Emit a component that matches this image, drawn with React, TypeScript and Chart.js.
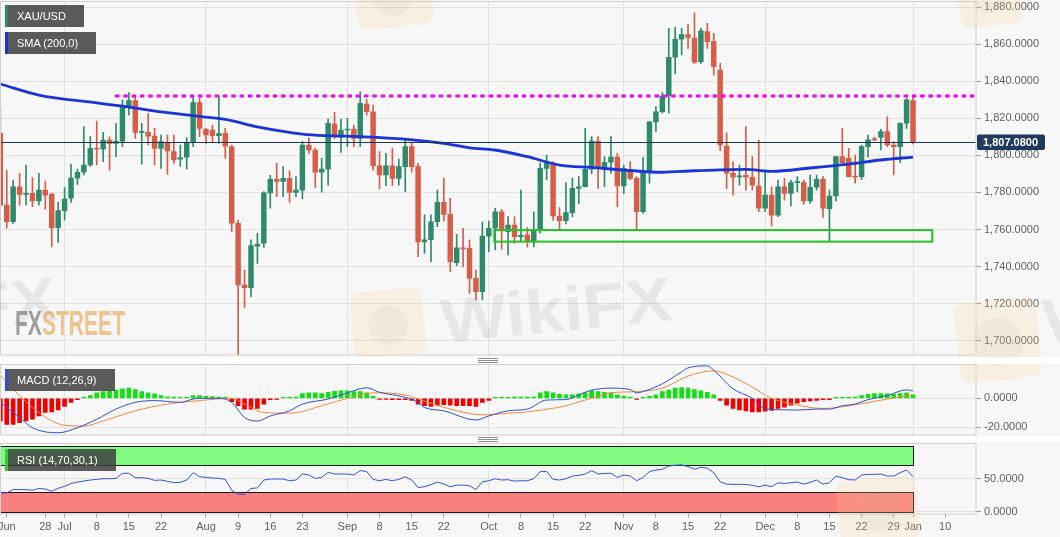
import React, { useEffect, useRef } from "react";
import { Chart, registerables } from "chart.js";

Chart.register(...registerables);

const FONT = '"Liberation Sans", Arial, Helvetica, sans-serif';
const GRID = "#e2e2e2";
const TXT = "#606060";
const BG = "#f7f7f7";
const BORDER = "#d0d0d0";
const UP = "#2f8a6c";
const DOWN = "#d65d48";

// ---------- categories: trading sessions (weekdays), first = 17 Jun 2021 ----------
const firstSession = "2021-06-17";
const sessionCount = 160;
function buildSessions(start: string, count: number): string[] {
  const out: string[] = [];
  const d = new Date(start + "T00:00:00Z");
  while (out.length < count) {
    const w = d.getUTCDay();
    if (w !== 0 && w !== 6) out.push(d.toISOString().slice(0, 10));
    d.setUTCDate(d.getUTCDate() + 1);
  }
  return out;
}
const sessions = buildSessions(firstSession, sessionCount);
const at = (d: string) => sessions.indexOf(d);

// ---------- XAU/USD daily OHLC, 17 Jun 2021 .. 3 Jan 2022 ----------
const open = [
  1811.9, 1773.2, 1764.2, 1783.1, 1778.9, 1779.5, 1775.4, 1781.3, 1779.0, 1761.0,
  1770.2, 1776.9, 1787.7, 1790.9, 1794.8, 1803.8, 1803.3, 1808.3, 1806.5, 1807.6,
  1826.0, 1829.5, 1812.4, 1812.4, 1810.4, 1803.8, 1807.1, 1802.0, 1797.9, 1799.0,
  1806.9, 1828.4, 1814.1, 1813.7, 1810.6, 1811.9, 1804.6, 1763.4, 1730.1, 1728.7,
  1751.1, 1752.6, 1779.8, 1787.1, 1786.0, 1787.6, 1780.0, 1781.3, 1805.6, 1802.9,
  1790.9, 1792.6, 1816.9, 1810.0, 1813.7, 1814.2, 1809.2, 1827.7, 1823.5, 1794.4,
  1789.4, 1794.4, 1787.6, 1793.9, 1804.7, 1793.9, 1753.4, 1754.5, 1764.2, 1774.7,
  1768.2, 1742.2, 1750.2, 1749.9, 1733.7, 1726.5, 1756.5, 1760.7, 1769.6, 1758.9,
  1762.4, 1756.1, 1757.2, 1754.0, 1759.8, 1793.0, 1795.3, 1767.3, 1764.8, 1769.1,
  1782.2, 1783.1, 1792.5, 1807.7, 1793.4, 1796.3, 1799.1, 1783.5, 1792.5, 1787.6,
  1769.6, 1791.7, 1818.1, 1823.5, 1832.0, 1852.9, 1862.6, 1865.1, 1863.3, 1850.5,
  1866.7, 1861.3, 1846.0, 1805.0, 1790.4, 1788.4, 1789.2, 1788.2, 1783.5, 1771.5,
  1778.6, 1767.8, 1783.1, 1779.5, 1785.3, 1785.3, 1775.5, 1782.8, 1787.1, 1771.2,
  1778.1, 1799.3, 1798.4, 1788.9, 1788.5, 1804.7, 1808.7, 1809.7, 1812.8, 1805.6,
  1804.7, 1817.3, 1829.5,
];
const high = [
  1825.5, 1792.0, 1786.7, 1790.3, 1794.8, 1788.0, 1790.3, 1786.2, 1779.5, 1774.7,
  1782.6, 1795.2, 1792.6, 1815.5, 1810.1, 1818.5, 1812.4, 1810.0, 1817.3, 1830.0,
  1833.8, 1832.0, 1817.3, 1822.6, 1814.6, 1811.0, 1811.0, 1811.0, 1805.6, 1809.6,
  1832.5, 1830.8, 1814.6, 1816.4, 1832.0, 1814.6, 1805.6, 1765.1, 1738.2, 1754.4,
  1758.0, 1780.5, 1789.2, 1795.7, 1793.9, 1791.6, 1788.5, 1807.4, 1809.5, 1803.8,
  1798.4, 1819.6, 1823.2, 1819.6, 1820.0, 1816.4, 1834.3, 1830.2, 1827.1, 1802.0,
  1801.1, 1803.8, 1798.0, 1809.2, 1806.5, 1795.7, 1767.9, 1767.9, 1781.3, 1787.6,
  1776.8, 1757.4, 1760.7, 1754.4, 1738.2, 1764.0, 1764.6, 1771.5, 1770.9, 1767.0,
  1766.9, 1781.3, 1761.2, 1769.6, 1796.0, 1800.1, 1796.6, 1771.9, 1785.3, 1787.6,
  1788.5, 1814.6, 1810.1, 1810.1, 1799.3, 1810.1, 1801.1, 1794.8, 1796.6, 1788.5,
  1798.9, 1818.2, 1826.3, 1833.8, 1868.5, 1869.0, 1868.5, 1870.8, 1876.9, 1868.5,
  1871.2, 1865.8, 1849.6, 1812.2, 1796.6, 1794.8, 1815.5, 1799.3, 1808.3, 1792.2,
  1783.1, 1786.7, 1787.6, 1786.7, 1788.5, 1786.7, 1789.4, 1789.4, 1788.5, 1781.3,
  1799.6, 1814.6, 1803.8, 1800.2, 1805.6, 1811.0, 1809.7, 1814.1, 1820.8, 1807.4,
  1817.6, 1830.8, 1831.6,
];
const low = [
  1771.6, 1760.7, 1763.3, 1773.2, 1773.2, 1772.3, 1773.2, 1771.0, 1750.7, 1753.1,
  1765.1, 1774.7, 1784.4, 1789.4, 1794.0, 1794.8, 1796.6, 1792.0, 1799.3, 1804.7,
  1821.7, 1809.2, 1795.2, 1805.6, 1794.8, 1793.0, 1789.8, 1795.7, 1794.0, 1792.6,
  1804.7, 1810.1, 1806.5, 1807.4, 1806.5, 1798.4, 1758.8, 1684.0, 1718.0, 1723.8,
  1741.8, 1750.4, 1771.5, 1777.7, 1777.7, 1774.7, 1777.7, 1776.5, 1801.1, 1782.6,
  1780.1, 1784.0, 1809.2, 1801.6, 1804.7, 1804.7, 1804.7, 1821.7, 1792.0, 1782.0,
  1783.6, 1783.6, 1784.0, 1780.4, 1790.9, 1745.4, 1747.2, 1742.7, 1761.5, 1764.6,
  1737.3, 1740.5, 1740.0, 1725.6, 1722.0, 1722.0, 1748.0, 1749.0, 1749.4, 1746.3,
  1752.5, 1753.5, 1750.5, 1750.7, 1758.0, 1786.7, 1765.1, 1760.1, 1763.0, 1766.9,
  1774.0, 1783.0, 1790.0, 1782.2, 1783.1, 1790.3, 1772.3, 1779.5, 1786.7, 1759.8,
  1768.7, 1785.0, 1812.8, 1822.7, 1822.7, 1843.9, 1854.1, 1857.7, 1849.6, 1849.6,
  1857.7, 1843.3, 1802.5, 1782.2, 1778.6, 1784.0, 1781.3, 1781.3, 1769.6, 1769.6,
  1762.0, 1766.9, 1775.9, 1772.7, 1780.4, 1773.7, 1774.1, 1781.3, 1766.6, 1753.7,
  1775.5, 1795.7, 1788.2, 1785.0, 1787.1, 1799.0, 1807.8, 1802.9, 1804.7, 1789.4,
  1796.0, 1814.6, 1806.1,
];
const close = [
  1773.2, 1764.2, 1783.1, 1779.0, 1779.6, 1775.4, 1781.3, 1778.6, 1761.0, 1770.2,
  1776.5, 1787.7, 1790.9, 1794.8, 1803.8, 1803.3, 1808.3, 1806.5, 1807.6, 1825.9,
  1829.5, 1812.4, 1812.8, 1810.4, 1803.8, 1807.4, 1802.4, 1797.5, 1798.8, 1806.9,
  1828.4, 1814.6, 1811.0, 1810.6, 1811.8, 1805.0, 1763.4, 1730.1, 1728.7, 1751.3,
  1752.2, 1779.8, 1787.1, 1786.0, 1787.6, 1780.0, 1781.3, 1805.6, 1802.9, 1790.9,
  1792.6, 1817.3, 1810.0, 1813.7, 1814.2, 1809.2, 1828.1, 1823.5, 1794.4, 1789.4,
  1794.4, 1787.6, 1793.9, 1804.7, 1793.9, 1753.4, 1754.5, 1764.2, 1774.7, 1768.2,
  1742.7, 1750.2, 1749.6, 1733.7, 1726.5, 1756.5, 1760.7, 1769.6, 1759.8, 1762.4,
  1756.1, 1756.9, 1754.0, 1759.8, 1793.0, 1796.0, 1767.3, 1764.8, 1769.1, 1782.2,
  1783.1, 1792.5, 1807.7, 1793.9, 1796.3, 1799.1, 1783.5, 1793.0, 1787.6, 1769.6,
  1791.7, 1818.1, 1823.5, 1832.0, 1852.9, 1862.6, 1865.1, 1863.6, 1850.3, 1867.2,
  1861.3, 1847.8, 1805.6, 1790.4, 1788.2, 1789.0, 1788.2, 1784.0, 1771.5, 1778.6,
  1767.8, 1783.1, 1779.5, 1785.3, 1785.8, 1775.5, 1782.8, 1787.1, 1771.5, 1778.1,
  1799.3, 1796.0, 1788.5, 1788.2, 1804.7, 1808.4, 1808.4, 1812.8, 1805.6, 1804.7,
  1817.3, 1829.9, 1807.08,
];

// ---------- SMA (200) ----------
const sma200: [string, number][] = [
  ["2021-06-17", 1838.5], ["2021-06-25", 1832.5], ["2021-07-08", 1828.3], ["2021-07-14", 1826.5],
  ["2021-07-23", 1823.0], ["2021-07-30", 1821.0], ["2021-08-05", 1819.4], ["2021-08-12", 1815.4],
  ["2021-08-23", 1811.5], ["2021-08-27", 1810.6], ["2021-09-03", 1810.1], ["2021-09-14", 1808.8],
  ["2021-09-22", 1806.5], ["2021-09-28", 1804.1], ["2021-10-04", 1802.9], ["2021-10-11", 1799.3],
  ["2021-10-18", 1794.8], ["2021-10-25", 1793.5], ["2021-11-01", 1792.1], ["2021-11-09", 1790.9],
  ["2021-11-16", 1791.7], ["2021-11-26", 1792.4], ["2021-12-02", 1791.4], ["2021-12-10", 1793.2],
  ["2021-12-20", 1795.3], ["2021-12-27", 1797.5], ["2022-01-03", 1799.1],
];

// ---------- MACD (12,26,9) ----------
const macdLine: [string, number][] = [
  ["2021-06-17", -2.8], ["2021-06-22", -13.4], ["2021-06-24", -20.5], ["2021-06-30", -24.0],
  ["2021-07-05", -20.5], ["2021-07-08", -14.6], ["2021-07-13", -7.5], ["2021-07-16", -2.8],
  ["2021-07-21", -1.6], ["2021-07-27", -2.8], ["2021-07-29", -0.5], ["2021-07-30", 0.0],
  ["2021-08-04", 0.0], ["2021-08-06", -2.8], ["2021-08-10", -13.4], ["2021-08-12", -15.8],
  ["2021-08-16", -12.3], ["2021-08-19", -8.7], ["2021-08-23", -4.0], ["2021-08-27", -0.5],
  ["2021-09-01", 3.8], ["2021-09-06", 7.3], ["2021-09-08", 4.2], ["2021-09-14", 0.7],
  ["2021-09-16", -2.8], ["2021-09-17", -6.4], ["2021-09-22", -8.7], ["2021-09-29", -15.1],
  ["2021-10-01", -12.3], ["2021-10-06", -8.7], ["2021-10-11", -7.5], ["2021-10-14", -1.2],
  ["2021-10-19", -0.9], ["2021-10-21", 2.4], ["2021-10-25", 5.7], ["2021-10-28", 7.1],
  ["2021-11-02", 6.1], ["2021-11-03", 3.8], ["2021-11-04", 4.7], ["2021-11-09", 10.1],
  ["2021-11-12", 18.4], ["2021-11-15", 21.2], ["2021-11-18", 22.6], ["2021-11-19", 19.6],
  ["2021-11-24", 6.6], ["2021-11-29", 0.0], ["2021-12-01", -7.1], ["2021-12-06", -8.0],
  ["2021-12-08", -8.2], ["2021-12-13", -7.5], ["2021-12-15", -7.5], ["2021-12-17", -5.2],
  ["2021-12-21", -4.0], ["2021-12-23", -0.9], ["2021-12-28", 1.9], ["2021-12-31", 5.9],
  ["2022-01-03", 5.2],
];
const signalLine: [string, number][] = [
  ["2021-06-17", 16.0], ["2021-06-22", 1.9], ["2021-06-25", -9.9], ["2021-07-01", -18.8],
  ["2021-07-06", -19.3], ["2021-07-09", -15.8], ["2021-07-16", -8.7], ["2021-07-23", -4.0],
  ["2021-07-30", -1.6], ["2021-08-06", 0.0], ["2021-08-10", -4.0], ["2021-08-13", -9.9],
  ["2021-08-19", -10.4], ["2021-08-26", -5.2], ["2021-09-01", 0.0], ["2021-09-07", 3.8],
  ["2021-09-14", 2.4], ["2021-09-16", -0.5], ["2021-09-23", -7.5], ["2021-09-30", -11.5],
  ["2021-10-06", -10.4], ["2021-10-11", -9.4], ["2021-10-19", -5.2], ["2021-10-22", -1.2],
  ["2021-10-28", 3.8], ["2021-11-03", 4.7], ["2021-11-09", 7.1], ["2021-11-15", 15.5],
  ["2021-11-19", 19.1], ["2021-11-24", 14.8], ["2021-11-29", 7.8], ["2021-12-02", 0.0],
  ["2021-12-08", -4.7], ["2021-12-14", -7.1], ["2021-12-20", -5.2], ["2021-12-28", -0.5],
  ["2022-01-03", 2.4],
];
const macdHist = [
  -15.8, -18.1, -18.1, -17, -15.8, -14.6, -12.3, -9.9, -9.4, -8,
  -5.7, -2.8, -0.9, 0.3, 1.9, 3.8, 4.7, 5.2, 5.7, 6.6,
  7.1, 6.1, 4.7, 3.8, 3.1, 1.9, 0.9, 0.7, 0.5, 0.5,
  1.9, 1.9, 1.4, 1.2, 0.9, 0.5, -2.4, -5.2, -7.5, -7.5,
  -7.1, -4, -0.9, -0.3, 0.3, 0.5, 0.9, 3.3, 3.8, 3.8,
  3.3, 4.2, 4.9, 5.2, 5.2, 4.7, 4.7, 3.8, 1.4, -0.2,
  -0.7, -0.9, -0.9, -0.9, -1.4, -4, -5.2, -5.7, -4.7, -4.5,
  -4.7, -5.2, -5.2, -5.2, -5.7, -2.8, -1.4, 0.2, 0.7, 0.7,
  0.9, 0.9, 0.9, 0.9, 3.8, 4.7, 3.8, 2.8, 2.4, 2.4,
  3.1, 3.8, 5.2, 4.7, 4.2, 3.8, 2.4, 1.4, 0.9, -0.5,
  0.5, 1.4, 2.4, 4.7, 5.7, 7.1, 7.5, 7.1, 6.1, 5.2,
  4.2, 2.4, -1.4, -4.7, -7.1, -8, -8.7, -9.4, -9.4, -9,
  -8.5, -7.1, -6.1, -4.7, -3.3, -2.4, -1.9, -1.4, -0.9, -0.9,
  0.2, 0.5, 0.7, 0.9, 1.9, 2.8, 3.3, 3.3, 3.1, 2.8,
  3.3, 3.8, 2.4,
];

// ---------- RSI (14,70,30,1) ----------
const rsi = [
  28.6, 28.6, 33.7, 33.7, 33.5, 32.7, 35.2, 34.5, 31.1, 35.5,
  38.5, 42.8, 44.9, 46.5, 48, 49, 50, 50, 50.5, 58.1,
  58.1, 51.5, 51.5, 50.5, 47.5, 48, 46, 44, 44.5, 48,
  59.1, 53, 52, 51, 50.5, 49, 32.7, 26.5, 26.5, 35.2,
  36.2, 48, 49.5, 49.5, 49.5, 47, 48, 57.1, 55.6, 50.5,
  52, 59.6, 57.1, 57.1, 57.1, 55.6, 62.2, 60.7, 49, 46.9,
  49, 46.9, 49, 53, 48, 36.7, 37.8, 41, 44.9, 42,
  37.8, 40.3, 40.3, 39.3, 33.7, 45.4, 46.9, 50, 48, 48.5,
  46.4, 46.9, 46.9, 50, 60.7, 61, 49, 48, 50, 54,
  55, 57, 62.2, 57.1, 58, 58.1, 52, 55.6, 54, 46.9,
  52, 60.7, 63, 64.2, 69, 70.3, 70.8, 68.3, 64.2, 67.3,
  65.8, 59.1, 45.4, 41.8, 41.5, 41.5, 41.3, 40, 37.8, 40.3,
  37.8, 43.9, 42.8, 44, 44.9, 41.8, 44.5, 48, 41.8, 43.9,
  54, 51.5, 48.5, 48, 55.6, 56.5, 56.5, 57.1, 54, 54,
  59, 63.2, 53,
];
const rsiLevels = { upper: 70, lower: 30, top: 100, bottom: 0 };

// ---------- axis ticks & annotations ----------
const priceTicks = [1700, 1720, 1740, 1760, 1780, 1800, 1820, 1840, 1860, 1880];
const macdTicks = [-20, 0];
const rsiTicks = [0, 50];
const xLabels: [string, string][] = [
  ["2021-06-18", "Jun"], ["2021-06-28", "28"], ["2021-07-01", "Jul"], ["2021-07-08", "8"],
  ["2021-07-15", "15"], ["2021-07-22", "22"], ["2021-08-02", "Aug"], ["2021-08-09", "9"],
  ["2021-08-16", "16"], ["2021-08-23", "23"], ["2021-09-01", "Sep"], ["2021-09-08", "8"],
  ["2021-09-15", "15"], ["2021-09-22", "22"], ["2021-10-01", "Oct"], ["2021-10-08", "8"],
  ["2021-10-15", "15"], ["2021-10-22", "22"], ["2021-11-01", "Nov"], ["2021-11-08", "8"],
  ["2021-11-15", "15"], ["2021-11-22", "22"], ["2021-12-01", "Dec"], ["2021-12-08", "8"],
  ["2021-12-15", "15"], ["2021-12-22", "22"], ["2021-12-29", "29"], ["2022-01-03", "Jan"],
  ["2022-01-10", "10"],
];
const monthStarts = ["2021-07-01", "2021-08-02", "2021-09-01", "2021-10-01", "2021-11-01", "2021-12-01", "2022-01-03"];
const resistance = { level: 1832.0, from: "2021-07-13" };
const supportZone = { top: 1759.7, bottom: 1753.5, from: "2021-10-04", to: "2022-01-06" };

const X_MIN = -0.05;
const X_MAX = 151.8;

function fmt(v: number) {
  return Number(v).toLocaleString("en-US", { minimumFractionDigits: 4, maximumFractionDigits: 4 });
}

function xScaleOpts(showLabels: boolean) {
  const tickDates = showLabels ? xLabels.map((t) => t[0]) : monthStarts;
  const labelMap = new Map<number, string>(xLabels.map(([d, l]) => [at(d), l] as [number, string]));
  const monthSet = new Set(monthStarts.map(at));
  return {
    type: "linear",
    min: X_MIN,
    max: X_MAX,
    offset: false,
    grid: {
      offset: false,
      color: (c: any) => (c.tick && monthSet.has(c.tick.value) ? GRID : "rgba(0,0,0,0)"),
      drawTicks: showLabels,
      tickLength: 4,
      tickColor: "#9a9a9a",
    },
    border: { display: false },
    ticks: {
      display: showLabels,
      autoSkip: false,
      maxRotation: 0,
      minRotation: 0,
      padding: 3,
      color: TXT,
      font: { family: FONT, size: 11 },
      callback: (v: any) => labelMap.get(Number(v)) ?? "",
    },
    afterBuildTicks: (s: any) => {
      s.ticks = tickDates.map((d) => ({ value: at(d) }));
    },
    afterFit: (s: any) => {
      s.height = showLabels ? 23.8 : 0;
      s.paddingLeft = 0;
      s.paddingRight = 0;
    },
  };
}

function yScaleOpts(min: number, max: number, ticks: number[]) {
  return {
    type: "linear",
    position: "right",
    min,
    max,
    grid: { color: GRID, drawTicks: true, tickLength: 5, tickColor: "#9a9a9a" },
    border: { display: false },
    ticks: {
      color: TXT,
      padding: 3,
      font: { family: FONT, size: 11 },
      callback: (v: any) => fmt(Number(v)),
    },
    afterBuildTicks: (s: any) => {
      s.ticks = ticks.map((v) => ({ value: v }));
    },
    afterFit: (s: any) => {
      s.width = 84;
      s.paddingTop = 0;
      s.paddingBottom = 0;
    },
  };
}

function roundRectPath(ctx: CanvasRenderingContext2D, x: number, y: number, w: number, h: number, r: number) {
  ctx.beginPath();
  ctx.moveTo(x + r, y);
  ctx.arcTo(x + w, y, x + w, y + h, r);
  ctx.arcTo(x + w, y + h, x, y + h, r);
  ctx.arcTo(x, y + h, x, y, r);
  ctx.arcTo(x, y, x + w, y, r);
  ctx.closePath();
}

// watermark decoration (page coordinates)
const emblemSpots = [
  [352, 290, 72, 66],
  [355, -40, 76, 67],
  [958, -42, 62, 68],
  [957, 300, 82, 80],
  [838, 478, 80, 64],
];
const wordSpots = [
  [443, 343],
  [-172, 343],
  [1045, 343],
];

function drawWatermarks(ctx: CanvasRenderingContext2D, offY: number) {
  ctx.save();
  ctx.translate(0, -offY);
  for (const [x, y, w, h] of emblemSpots) {
    ctx.save();
    ctx.translate(x + w / 2, y + h / 2);
    ctx.rotate(-0.1);
    ctx.fillStyle = "rgba(243,210,145,0.2)";
    roundRectPath(ctx, -w / 2, -h / 2, w, h, 10);
    ctx.fill();
    ctx.fillStyle = "rgba(150,150,150,0.07)";
    ctx.beginPath();
    ctx.arc(0, 2, Math.min(w, h) * 0.3, 0, Math.PI * 2);
    ctx.fill();
    ctx.restore();
  }
  ctx.font = `bold 62px ${FONT}`;
  const tw = ctx.measureText("WikiFX").width;
  for (const [x, y] of wordSpots) {
    ctx.save();
    ctx.translate(x, y);
    ctx.rotate(-0.1);
    ctx.scale(232 / tw, 1);
    ctx.fillStyle = "rgba(140,140,140,0.15)";
    ctx.textBaseline = "alphabetic";
    ctx.fillText("WikiFX", 0, 0);
    ctx.restore();
  }
  ctx.restore();
}

function fillBackground(chart: any) {
  const { ctx, width, height } = chart;
  ctx.save();
  ctx.fillStyle = BG;
  ctx.fillRect(0, 0, width, height);
  ctx.restore();
}

function strokeArea(chart: any) {
  const { ctx, chartArea: a } = chart;
  ctx.save();
  ctx.strokeStyle = BORDER;
  ctx.lineWidth = 1;
  ctx.strokeRect(Math.round(a.left) + 0.5, Math.round(a.top) - 0.5, Math.round(a.right - a.left) - 0.5, Math.round(a.bottom - a.top) + 0.5);
  ctx.restore();
}

const baseOptions = (padTop: number, padBottom: number) => ({
  responsive: false,
  animation: false,
  events: [],
  layout: { autoPadding: false, padding: { top: padTop, bottom: padBottom, left: 0, right: 0 } },
  plugins: { legend: { display: false }, tooltip: { enabled: false } },
});

function makeMain(canvas: HTMLCanvasElement) {
  const colors = close.map((c, i) => (c >= open[i] ? UP : DOWN));
  const lastClose = close[close.length - 1];
  const plugin = {
    id: "mainDecor",
    beforeDraw: (chart: any) => fillBackground(chart),
    beforeDatasetsDraw: (chart: any) => {
      const { ctx } = chart;
      ctx.save();
      ctx.font = `bold 35px ${FONT}`;
      ctx.textBaseline = "alphabetic";
      const w1 = ctx.measureText("FX").width;
      const w2 = ctx.measureText("STREET").width;
      ctx.translate(15, 335);
      ctx.scale(110 / (w1 + w2), 1);
      ctx.fillStyle = "rgba(135,135,135,0.8)";
      ctx.fillText("FX", 0, 0);
      ctx.fillStyle = "rgba(238,178,105,0.75)";
      ctx.fillText("STREET", w1, 0);
      ctx.restore();
    },
    afterDatasetsDraw: (chart: any) => {
      const { ctx, chartArea: a } = chart;
      const xs = chart.scales.x;
      const ys = chart.scales.y;
      ctx.save();
      ctx.beginPath();
      ctx.rect(a.left, a.top, a.right - a.left, a.bottom - a.top);
      ctx.clip();
      // resistance
      const ry = ys.getPixelForValue(resistance.level);
      ctx.strokeStyle = "#f300f3";
      ctx.lineWidth = 3;
      ctx.setLineDash([4.5, 3.8]);
      ctx.beginPath();
      ctx.moveTo(xs.getPixelForValue(at(resistance.from) - 0.15), ry);
      ctx.lineTo(a.right, ry);
      ctx.stroke();
      ctx.setLineDash([]);
      // support zone
      const sx0 = xs.getPixelForValue(at(supportZone.from) - 0.15);
      const sx1 = xs.getPixelForValue(at(supportZone.to));
      const sy0 = ys.getPixelForValue(supportZone.top);
      const sy1 = ys.getPixelForValue(supportZone.bottom);
      ctx.strokeStyle = "#22c322";
      ctx.lineWidth = 2;
      ctx.strokeRect(sx0, sy0, sx1 - sx0, sy1 - sy0);
      // current price line
      const py = Math.round(ys.getPixelForValue(lastClose)) + 0.5;
      ctx.strokeStyle = "#1e3556";
      ctx.lineWidth = 1;
      ctx.beginPath();
      ctx.moveTo(a.left, py);
      ctx.lineTo(a.right, py);
      ctx.stroke();
      ctx.restore();
    },
    afterDraw: (chart: any) => {
      const { ctx, chartArea: a } = chart;
      const ys = chart.scales.y;
      strokeArea(chart);
      const py = ys.getPixelForValue(lastClose);
      ctx.save();
      ctx.fillStyle = "#1f3a5c";
      roundRectPath(ctx, a.right + 1, py - 7.8, 68, 15.6, 2);
      ctx.fill();
      ctx.fillStyle = "#ffffff";
      ctx.font = `bold 11px ${FONT}`;
      ctx.textBaseline = "middle";
      ctx.textAlign = "left";
      ctx.fillText(fmt(lastClose), a.right + 7, py + 0.5);
      ctx.restore();
      drawWatermarks(ctx, 0);
    },
  };
  return new Chart(canvas, {
    type: "bar",
    data: {
      datasets: [
        {
          type: "line",
          label: "SMA (200,0)",
          data: sma200.map(([d, v]) => ({ x: at(d), y: v })),
          borderColor: "#1b34d8",
          borderWidth: 2.8,
          pointRadius: 0,
          cubicInterpolationMode: "monotone",
          order: 0,
        },
        {
          type: "bar",
          label: "body",
          data: open.map((o, i) => ({ x: i, y: [o, close[i]] })),
          backgroundColor: colors,
          barThickness: 4.8,
          minBarLength: 1,
          grouped: false,
          order: 1,
        },
        {
          type: "bar",
          label: "wick",
          data: low.map((l, i) => ({ x: i, y: [l, high[i]] })),
          backgroundColor: colors,
          barThickness: 1,
          grouped: false,
          order: 2,
        },
      ],
    } as any,
    options: {
      ...baseOptions(2, 1.7),
      scales: { x: xScaleOpts(false), y: yScaleOpts(1692.2, 1882.7, priceTicks) },
    } as any,
    plugins: [plugin],
  });
}

function makeMacd(canvas: HTMLCanvasElement) {
  const plugin = {
    id: "macdDecor",
    beforeDraw: (chart: any) => fillBackground(chart),
    afterDraw: (chart: any) => {
      strokeArea(chart);
      drawWatermarks(chart.ctx, 364);
    },
  };
  return new Chart(canvas, {
    type: "bar",
    data: {
      datasets: [
        {
          type: "line",
          label: "MACD",
          data: macdLine.map(([d, v]) => ({ x: at(d), y: v })),
          borderColor: "#2f4fd8",
          borderWidth: 1,
          pointRadius: 0,
          cubicInterpolationMode: "monotone",
          order: 0,
        },
        {
          type: "line",
          label: "Signal",
          data: signalLine.map(([d, v]) => ({ x: at(d), y: v })),
          borderColor: "#f08a3c",
          borderWidth: 1,
          pointRadius: 0,
          cubicInterpolationMode: "monotone",
          order: 1,
        },
        {
          type: "bar",
          label: "Histogram",
          data: macdHist.map((v, i) => ({ x: i, y: v })),
          backgroundColor: macdHist.map((v) => (v >= 0 ? "#12e012" : "#f20000")),
          barThickness: 4,
          minBarLength: 1,
          grouped: false,
          order: 2,
        },
      ],
    } as any,
    options: {
      ...baseOptions(1, 1.5),
      scales: { x: xScaleOpts(false), y: yScaleOpts(-25.2, 23.2, macdTicks) },
    } as any,
    plugins: [plugin],
  });
}

function makeRsi(canvas: HTMLCanvasElement) {
  const plugin = {
    id: "rsiDecor",
    beforeDraw: (chart: any) => fillBackground(chart),
    beforeDatasetsDraw: (chart: any) => {
      const { ctx } = chart;
      const xs = chart.scales.x;
      const ys = chart.scales.y;
      const x0 = Math.round(xs.getPixelForValue(0)) + 0.5;
      const x1 = Math.round(xs.getPixelForValue(close.length - 1)) + 0.5;
      const yTop = Math.round(ys.getPixelForValue(rsiLevels.top)) + 0.5;
      const yUp = Math.round(ys.getPixelForValue(rsiLevels.upper)) + 0.5;
      const yLo = Math.round(ys.getPixelForValue(rsiLevels.lower)) + 0.5;
      const yBot = Math.round(ys.getPixelForValue(rsiLevels.bottom)) + 0.5;
      ctx.save();
      ctx.fillStyle = "rgb(128,250,128)";
      ctx.fillRect(x0, yTop, x1 - x0, yUp - yTop);
      ctx.fillStyle = "rgb(250,128,128)";
      ctx.fillRect(x0, yLo, x1 - x0, yBot - yLo);
      ctx.strokeStyle = "#1a1a1a";
      ctx.lineWidth = 1;
      ctx.strokeRect(x0, yTop, x1 - x0, yUp - yTop);
      ctx.strokeRect(x0, yLo, x1 - x0, yBot - yLo);
      ctx.restore();
    },
    afterDraw: (chart: any) => {
      strokeArea(chart);
      drawWatermarks(chart.ctx, 442);
    },
  };
  return new Chart(canvas, {
    type: "line",
    data: {
      datasets: [
        {
          label: "RSI",
          data: rsi.map((v, i) => ({ x: i, y: v })),
          borderColor: "#3552d2",
          borderWidth: 1,
          pointRadius: 0,
          tension: 0,
        },
      ],
    } as any,
    options: {
      ...baseOptions(1.6, 0),
      scales: { x: xScaleOpts(true), y: yScaleOpts(-2, 102.9, rsiTicks) },
    } as any,
    plugins: [plugin],
  });
}

function Legend({ top, width, stripe, text }: { top: number; width: number; stripe: string; text: string }) {
  return (
    <div
      style={{
        position: "absolute",
        left: 5,
        top,
        width,
        height: 22,
        boxSizing: "border-box",
        background: "rgba(62,62,62,0.85)",
        borderLeft: `3px solid ${stripe}`,
        color: "#ffffff",
        fontFamily: FONT,
        fontSize: 11,
        lineHeight: "22px",
        paddingLeft: 9,
        whiteSpace: "nowrap",
      }}
    >
      {text}
    </div>
  );
}

function Handle({ top }: { top: number }) {
  const line = (dy: number) => (
    <div key={dy} style={{ position: "absolute", left: 0, top: dy, width: 20, height: 1, background: "#8c8c8c" }} />
  );
  return <div style={{ position: "absolute", left: 478, top, width: 20, height: 5 }}>{[0, 2, 4].map(line)}</div>;
}

export default function App() {
  const mainRef = useRef<HTMLCanvasElement>(null);
  const macdRef = useRef<HTMLCanvasElement>(null);
  const rsiRef = useRef<HTMLCanvasElement>(null);

  useEffect(() => {
    const charts = [makeMain(mainRef.current!), makeMacd(macdRef.current!), makeRsi(rsiRef.current!)];
    return () => charts.forEach((c) => c.destroy());
  }, []);

  return (
    <div style={{ position: "fixed", left: 0, top: 0, width: 1060, height: 537, background: "#ffffff", overflow: "hidden" }}>
      <canvas ref={mainRef} width={1060} height={357} style={{ position: "absolute", left: 0, top: 0 }} />
      <canvas ref={macdRef} width={1060} height={72} style={{ position: "absolute", left: 0, top: 364 }} />
      <canvas ref={rsiRef} width={1060} height={95} style={{ position: "absolute", left: 0, top: 442 }} />
      <Handle top={358} />
      <Handle top={437} />
      <Legend top={5} width={79} stripe="#2f8a6c" text="XAU/USD" />
      <Legend top={32} width={91} stripe="#1b34d8" text="SMA (200,0)" />
      <Legend top={369} width={110} stripe="#2f4fd8" text="MACD (12,26,9)" />
      <Legend top={448.5} width={111} stripe="#33cc33" text="RSI (14,70,30,1)" />
    </div>
  );
}
